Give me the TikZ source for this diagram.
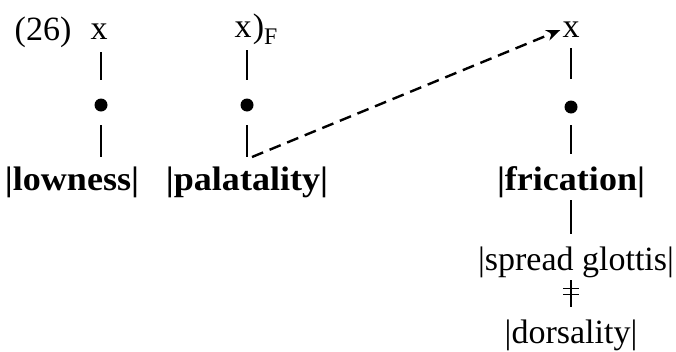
\documentclass[tikz,border=0pt]{standalone}
\usepackage{fontspec}
\setmainfont{Liberation Serif}[BoldFeatures={FakeStretch=1.06}]
\usetikzlibrary{arrows.meta, positioning}
\tikzset{
	seg/.style      ={line width=2.4pt, shorten <=20pt, shorten >=25pt},
	segthin/.style  ={line width=1.3pt, shorten <=18pt, shorten >=28pt},
	dot/.style      ={circle, fill=black, inner sep=0pt, minimum size=13pt},
	feat/.style     ={font=\fontsize{34}{40}\selectfont\bfseries},
	spread/.style   ={-{Stealth[length=14pt, width=11pt]}, line width=2.4pt, dash pattern=on 12pt off 7pt},
}

\begin{document}
\begin{tikzpicture}[x=1pt, y=-1pt, font=\fontsize{34}{40}\selectfont, inner sep=2pt]
	\useasboundingbox (0,0) rectangle (676,351);
	% first column
	\node (ex) at (43,32) {(26)};
	\node (x1) at (99,32) {x};
	\node[dot] (d1) at (101,105) {};
	\node[feat] (low) at (72,182) {|lowness|};
	\draw[seg] (d1 |- x1) -- (d1.center);
	\draw[seg] (d1.center) -- (d1 |- low);
	% second column
	\node (x2) at (243,30) {x};
	\node[right=-3pt of x2, yshift=1pt] (brk) {)\textsubscript{F}};
	\node[dot] (d2) at (247,105) {};
	\node[feat] (pal) at (247,182) {|palatality|};
	\draw[seg] (d2 |- x2) -- (d2.center);
	\draw[seg] (d2.center) -- (d2 |- pal);
	% third column
	\node (x3) at (571,30) {x};
	\node[dot] (d3) at (571,107) {};
	\node[feat] (fric) at (571,182) {|frication|};
	\node (sg) at (576,262) {|spread glottis|};
	\node (dor) at (571,335) {|dorsality|};
	\draw[segthin] (x3.center) -- (d3.center);
	\draw[segthin] (d3.center) -- (fric.center);
	\draw[segthin] (fric.center) -- (fric |- sg);
	\draw[segthin] (fric |- sg) -- coordinate[pos=0.4] (neq) (dor.center);
	\draw[line width=1.3pt] ([xshift=-8pt, yshift=3pt]neq) -- ++(16,0);
	\draw[line width=1.3pt] ([xshift=-8pt, yshift=-3pt]neq) -- ++(16,0);
	% spreading
	\coordinate (tail) at (252,157);
	\draw[spread] (tail) -- (x3.west);
\end{tikzpicture}
\end{document}
